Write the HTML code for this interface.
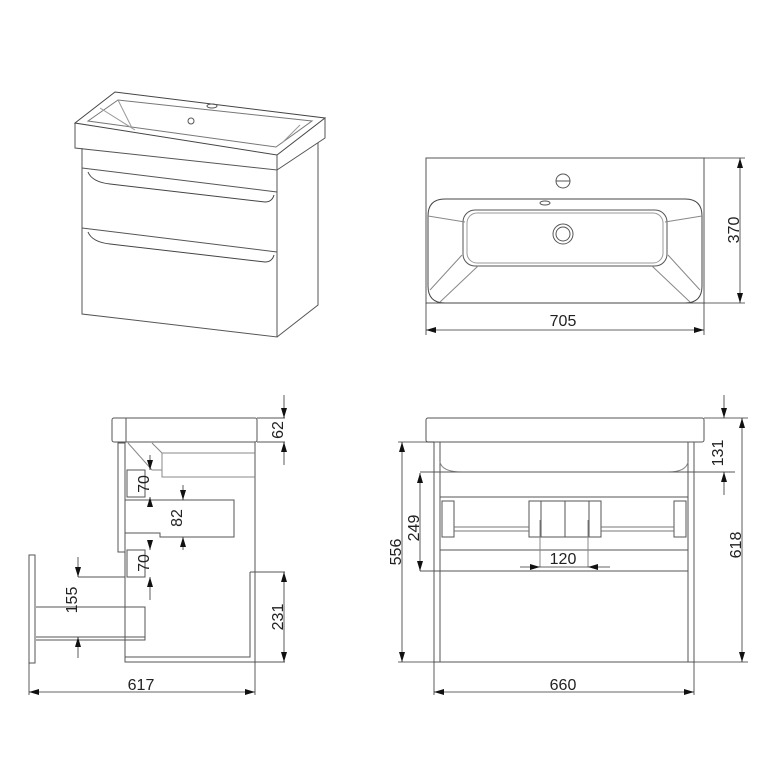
<!DOCTYPE html>
<html><head><style>
html,body{margin:0;padding:0;background:#fff}
svg{display:block}
text{font-family:"Liberation Sans",sans-serif;font-size:16px;fill:#222}
</style></head><body>
<svg width="768" height="768" viewBox="0 0 768 768" xmlns="http://www.w3.org/2000/svg">
<defs>
<marker id="a" viewBox="0 0 10 6" refX="10" refY="3" markerWidth="10" markerHeight="6" orient="auto-start-reverse" markerUnits="userSpaceOnUse"><path d="M0,0 L10,3 L0,6 z" fill="#111"/></marker>
</defs>
<g fill="none" stroke="#555" stroke-width="1">
<!-- Isometric -->
<path d="M75,123 L115,92 L325,118 L277,155 Z" stroke="#444"/>
<path d="M88,121 L118,100 L312,121 L276,147 Z" stroke="#777"/>
<path d="M100,108 L135,130 M118,100 L132,128 M300,125 L282,143" stroke="#999"/>
<path d="M75,123 L75,148 L277,170 L277,155"/>
<path d="M277,170 L325,138 L325,118"/>
<circle cx="191" cy="121" r="3"/><ellipse cx="212" cy="106" rx="5" ry="2"/>
<path d="M82,148 L82,314 L277,337 L277,170"/>
<path d="M277,337 L318,305 L318,143"/>
<path d="M82,168 L277,192 M82,228 L277,252"/>
<path d="M88,172 Q92,182 110,184 L265,202 Q272,202 274,195" stroke="#444"/>
<path d="M88,232 Q92,242 110,244 L265,262 Q272,262 274,255" stroke="#444"/>
<!-- Top view -->
<rect x="426" y="158" width="278" height="145"/>
<path d="M445,199 L685,199 Q702,199 702,216 L702,286 Q702,303 685,303 L445,303 Q428,303 428,286 L428,216 Q428,199 445,199 Z" stroke="#444"/>
<rect x="463" y="210" width="204" height="56" rx="12"/>
<rect x="467" y="213" width="196" height="50" rx="10" stroke="#999"/>
<path d="M428,216 L465,222 M702,216 L665,222 M430,290 L462,255 M700,290 L668,255 M440,302 L478,266 M690,302 L652,266" stroke="#888"/>
<circle cx="563" cy="181" r="7"/><path d="M556,181 L570,181"/>
<circle cx="563" cy="234" r="10"/><circle cx="563" cy="234" r="7"/>
<ellipse cx="545" cy="203" rx="5" ry="2"/>
<!-- Front view -->
<rect x="426" y="418" width="278" height="24" rx="2"/>
<rect x="434" y="442" width="260" height="220"/>
<path d="M440,442 L440,662 M688,442 L688,662"/>
<path d="M440,462 Q442,472 462,472 L668,472 Q686,472 688,462" stroke="#888"/>
<path d="M440,497 L688,497 M440,550 L688,550 M420,571 L688,571 M420,472 L735,472"/>
<rect x="442" y="501" width="12" height="36"/><rect x="674" y="501" width="12" height="36"/>
<rect x="529" y="501" width="12" height="36"/><rect x="589" y="501" width="12" height="36"/>
<rect x="541" y="501" width="24" height="36"/><rect x="565" y="501" width="24" height="36"/>
<path d="M454,527 L529,527 M454,531 L529,531 M601,527 L674,527 M601,531 L674,531" stroke="#777"/>
<path d="M540,520 L540,567 M588,520 L588,567" stroke="#888"/>
<!-- Side view -->
<rect x="112" y="418" width="145" height="24" rx="2"/>
<path d="M126,418 L126,442 M125,442 L125,662 L255,662 L255,442"/>
<path d="M118,443 L125,443 L125,552 L118,552 Z"/>
<path d="M250,572 L250,657 L125,657"/>
<path d="M250,572 L285,572 M255,662 L285,662 M257,418 L285,418 M257,442 L285,442"/>
<path d="M128,443 L152,470 L162,470 L162,477 L255,477 M152,443 L162,453 L162,470 M162,453 L255,453" stroke="#888"/>
<rect x="127" y="470" width="18" height="27"/>
<rect x="127" y="550" width="18" height="27"/>
<path d="M125,500 L234,500 L234,537 L160,537 L160,533 L125,533 Z"/>
<rect x="29" y="555" width="6" height="108"/>
<path d="M36,607 L145,607 L145,640 L36,640 M36,637 L145,637"/>
<path d="M78,577 L125,577"/>
</g>
<g fill="none" stroke="#333" stroke-width="0.8">
<line x1="29" y1="663" x2="29" y2="695"/><line x1="255" y1="662" x2="255" y2="695"/>
<line x1="29" y1="692" x2="255" y2="692" marker-start="url(#a)" marker-end="url(#a)"/>
<line x1="284" y1="395" x2="284" y2="418" marker-end="url(#a)"/><line x1="284" y1="465" x2="284" y2="442" marker-end="url(#a)"/>
<line x1="284" y1="572" x2="284" y2="662" marker-start="url(#a)" marker-end="url(#a)"/>
<line x1="78" y1="557" x2="78" y2="577" marker-end="url(#a)"/><line x1="78" y1="658" x2="78" y2="637" marker-end="url(#a)"/>
<line x1="150" y1="455" x2="150" y2="470" marker-end="url(#a)"/><line x1="150" y1="505" x2="150" y2="497" marker-end="url(#a)"/>
<line x1="150" y1="540" x2="150" y2="550" marker-end="url(#a)"/><line x1="150" y1="600" x2="150" y2="577" marker-end="url(#a)"/>
<line x1="183" y1="485" x2="183" y2="500" marker-end="url(#a)"/><line x1="183" y1="550" x2="183" y2="537" marker-end="url(#a)"/>
<line x1="704" y1="158" x2="745" y2="158"/><line x1="704" y1="303" x2="745" y2="303"/>
<line x1="740" y1="158" x2="740" y2="303" marker-start="url(#a)" marker-end="url(#a)"/>
<line x1="426" y1="303" x2="426" y2="335"/><line x1="704" y1="303" x2="704" y2="335"/>
<line x1="426" y1="330" x2="704" y2="330" marker-start="url(#a)" marker-end="url(#a)"/>
<line x1="398" y1="442" x2="434" y2="442"/><line x1="398" y1="662" x2="434" y2="662"/>
<line x1="402" y1="442" x2="402" y2="662" marker-start="url(#a)" marker-end="url(#a)"/>
<line x1="420" y1="473" x2="420" y2="571" marker-start="url(#a)" marker-end="url(#a)"/>
<line x1="704" y1="418" x2="748" y2="418"/><line x1="694" y1="662" x2="748" y2="662"/>
<line x1="724" y1="395" x2="724" y2="418" marker-end="url(#a)"/><line x1="724" y1="495" x2="724" y2="472" marker-end="url(#a)"/>
<line x1="742" y1="418" x2="742" y2="662" marker-start="url(#a)" marker-end="url(#a)"/>
<line x1="434" y1="662" x2="434" y2="695"/><line x1="694" y1="662" x2="694" y2="695"/>
<line x1="434" y1="692" x2="694" y2="692" marker-start="url(#a)" marker-end="url(#a)"/>
<line x1="520" y1="567" x2="540" y2="567" marker-end="url(#a)"/><line x1="610" y1="567" x2="588" y2="567" marker-end="url(#a)"/>
<line x1="540" y1="567" x2="588" y2="567"/>
</g>
<text x="141" y="690" text-anchor="middle">617</text>
<text x="563" y="690" text-anchor="middle">660</text>
<text x="563" y="326" text-anchor="middle">705</text>
<text x="563" y="564" text-anchor="middle">120</text>
<text transform="translate(283,430) rotate(-90)" text-anchor="middle">62</text>
<text transform="translate(283,617) rotate(-90)" text-anchor="middle">231</text>
<text transform="translate(77,600) rotate(-90)" text-anchor="middle">155</text>
<text transform="translate(149,484) rotate(-90)" text-anchor="middle">70</text>
<text transform="translate(149,563) rotate(-90)" text-anchor="middle">70</text>
<text transform="translate(182,518) rotate(-90)" text-anchor="middle">82</text>
<text transform="translate(739,230) rotate(-90)" text-anchor="middle">370</text>
<text transform="translate(401,552) rotate(-90)" text-anchor="middle">556</text>
<text transform="translate(419,528) rotate(-90)" text-anchor="middle">249</text>
<text transform="translate(723,453) rotate(-90)" text-anchor="middle">131</text>
<text transform="translate(741,545) rotate(-90)" text-anchor="middle">618</text>
</svg>
</body></html>
